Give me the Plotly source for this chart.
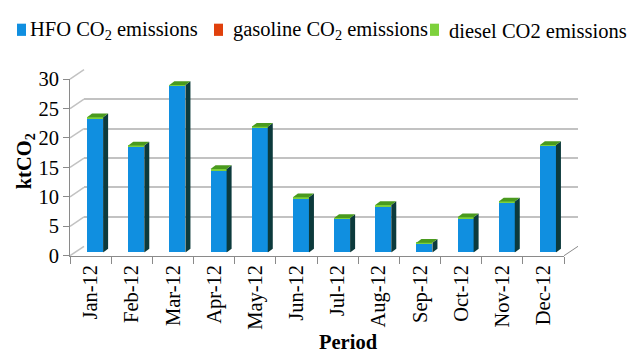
import plotly.graph_objects as go

# ---- data -------------------------------------------------------------
months = ["Jan-12", "Feb-12", "Mar-12", "Apr-12", "May-12", "Jun-12",
          "Jul-12", "Aug-12", "Sep-12", "Oct-12", "Nov-12", "Dec-12"]
hfo_co2 = [22.8, 18.0, 28.3, 14.0, 21.2, 9.2, 5.7, 7.9, 1.5, 5.8, 8.5, 18.1]
gasoline_co2 = [0.01, 0.01, 0.01, 0.01, 0.01, 0.01, 0.01, 0.01, 0.01, 0.01, 0.01, 0.01]
diesel_co2 = [0.15, 0.15, 0.15, 0.15, 0.15, 0.15, 0.15, 0.15, 0.15, 0.15, 0.15, 0.15]
y_ticks = [0, 5, 10, 15, 20, 25, 30]

# ---- page geometry (pixels) -------------------------------------------
W, H = 636, 363
FX0, FX1 = 70, 564          # front plane, left/right
FY0, FYT = 260.5, 72.5      # front plane, value 0 / value 30
YMAX = 30
WALL_DX, WALL_DY = 14, -10  # depth of the back wall
BAR_DX, BAR_DY = 4.5, -3.5  # columns sit slightly inside the box
SIDE_DX, SIDE_DY = 5, -4    # column depth
BAR_W = 0.39

BLUE, RED, GREEN = "#108fe0", "#e0400c", "#7dd13c"
SIDE_COL, TOP_COL = "#0c3a3c", "#4a9a1e"
GRID_COL, AXIS_COL = "#c2c2c2", "#8a8a8a"
FONT = "Liberation Serif"
FS = 20.5


def px(xp):
    return xp / W


def py(yp):
    return 1 - yp / H


def xdom(dx):
    return [px(FX0 + dx), px(FX1 + dx)]


def ydom(dy):
    return [py(FY0 + dy), py(FYT + dy)]


px_per_unit = (FY0 - FYT) / YMAX
step_px = (FX1 - FX0) / len(months)
half_w = BAR_W * step_px / 2
dy_side = -SIDE_DY / px_per_unit

fig = go.Figure()

# back wall subplot (grid only)
fig.add_trace(go.Scatter(x=months, y=[None] * len(months), xaxis="x", yaxis="y",
                         showlegend=False, hoverinfo="skip"))

# columns (a fraction of transparency keeps sub-pixel segments from being
# widened to a full pixel)
for name, vals, col in [("HFO CO<sub>2</sub> emissions", hfo_co2, BLUE),
                        ("gasoline CO<sub>2</sub> emissions", gasoline_co2,
                         "rgba(224,64,12,0.99)"),
                        ("diesel CO2 emissions", diesel_co2, GREEN)]:
    fig.add_trace(go.Bar(x=months, y=vals, name=name, marker_color=col,
                         marker_line_width=0, width=BAR_W,
                         xaxis="x2", yaxis="y2", showlegend=False))

# front axes subplot (ticks and labels)
fig.add_trace(go.Scatter(x=months, y=[None] * len(months), xaxis="x3", yaxis="y3",
                         showlegend=False, hoverinfo="skip"))

shapes = []
# column side and top faces
totals = [a + b + c for a, b, c in zip(hfo_co2, gasoline_co2, diesel_co2)]
for i, t in enumerate(totals):
    side = (f"M{half_w},0 L{half_w + SIDE_DX},{dy_side} "
            f"L{half_w + SIDE_DX},{t + dy_side} L{half_w},{t} Z")
    top = (f"M{-half_w},{t} L{half_w},{t} L{half_w + SIDE_DX},{t + dy_side} "
           f"L{-half_w + SIDE_DX},{t + dy_side} Z")
    for path, col in [(side, SIDE_COL), (top, TOP_COL)]:
        shapes.append(dict(type="path", xref="x2", yref="y2", xsizemode="pixel",
                           xanchor=i, path=path, fillcolor=col,
                           line=dict(width=0), layer="above"))

# left-hand depth lines from each front tick to the back wall
for v in y_ticks:
    yf = FY0 - v * px_per_unit
    shapes.append(dict(type="line", xref="paper", yref="paper",
                       x0=px(FX0), y0=py(yf), x1=px(FX0 + WALL_DX), y1=py(yf + WALL_DY),
                       line=dict(color=GRID_COL, width=1.5), layer="below"))
# right-hand floor edge
shapes.append(dict(type="line", xref="paper", yref="paper",
                   x0=px(FX1), y0=py(FY0), x1=px(FX1 + WALL_DX), y1=py(FY0 + WALL_DY),
                   line=dict(color=AXIS_COL, width=1), layer="below"))

# legend
legend_items = [(17, 28, BLUE, "HFO CO<sub>2</sub> emissions"),
                (214, 231, RED, "gasoline CO<sub>2</sub> emissions"),
                (430, 447, GREEN, "diesel CO2 emissions")]
annotations = []
for sx, tx, col, label in legend_items:
    shapes.append(dict(type="rect", xref="paper", yref="paper",
                       x0=px(sx), x1=px(sx + 9), y0=py(26.5), y1=py(13.5),
                       fillcolor=col, line=dict(width=0)))
    annotations.append(dict(text=label, xref="paper", yref="paper", x=px(tx), y=py(21),
                            xanchor="left", yanchor="middle", showarrow=False,
                            font=dict(family=FONT, size=FS, color="black")))

# axis titles
annotations.append(dict(text="<b>ktCO<sub>2</sub></b>", xref="paper", yref="paper",
                        x=px(25), y=py(160), textangle=-90, showarrow=False,
                        xanchor="center", yanchor="middle",
                        font=dict(family=FONT, size=FS, color="black")))
annotations.append(dict(text="<b>Period</b>", xref="paper", yref="paper",
                        x=px(348), y=py(352), showarrow=False,
                        xanchor="center", yanchor="middle",
                        font=dict(family=FONT, size=FS, color="black")))

hidden_x = dict(type="category", categoryorder="array", categoryarray=months,
                range=[-0.5, len(months) - 0.5], showgrid=False, zeroline=False,
                showticklabels=False, ticks="", showline=False, fixedrange=True)
hidden_y = dict(range=[0, YMAX], zeroline=False, showticklabels=False, ticks="",
                showline=False, fixedrange=True)

fig.update_layout(
    width=W, height=H,
    margin=dict(l=0, r=0, t=0, b=0),
    paper_bgcolor="white", plot_bgcolor="rgba(0,0,0,0)",
    barmode="stack",
    showlegend=False,
    font=dict(family=FONT, size=FS, color="black"),
    xaxis=dict(hidden_x, domain=xdom(WALL_DX), anchor="y"),
    yaxis=dict(hidden_y, domain=ydom(WALL_DY), anchor="x", showgrid=True,
               tickvals=y_ticks, gridcolor=GRID_COL, gridwidth=1.5),
    xaxis2=dict(hidden_x, domain=xdom(BAR_DX), anchor="y2"),
    yaxis2=dict(hidden_y, domain=ydom(BAR_DY), anchor="x2", showgrid=False),
    xaxis3=dict(type="category", categoryorder="array", categoryarray=months,
                range=[-0.5, len(months) - 0.5], domain=xdom(0), anchor="y3",
                showgrid=False, zeroline=False, showline=True, linecolor=AXIS_COL,
                linewidth=1, ticks="outside", tickson="boundaries", ticklen=7,
                tickcolor=AXIS_COL, tickangle=-90,
                tickfont=dict(family=FONT, size=FS, color="black"), fixedrange=True),
    yaxis3=dict(range=[0, YMAX], domain=ydom(0), anchor="x3", tickvals=y_ticks,
                showgrid=False, zeroline=False, showline=True, linecolor=AXIS_COL,
                linewidth=1, ticks="outside", ticklen=6, tickcolor=AXIS_COL,
                tickfont=dict(family=FONT, size=FS, color="black"), fixedrange=True),
    shapes=shapes,
    annotations=annotations,
)

fig.write_html("out.html")
